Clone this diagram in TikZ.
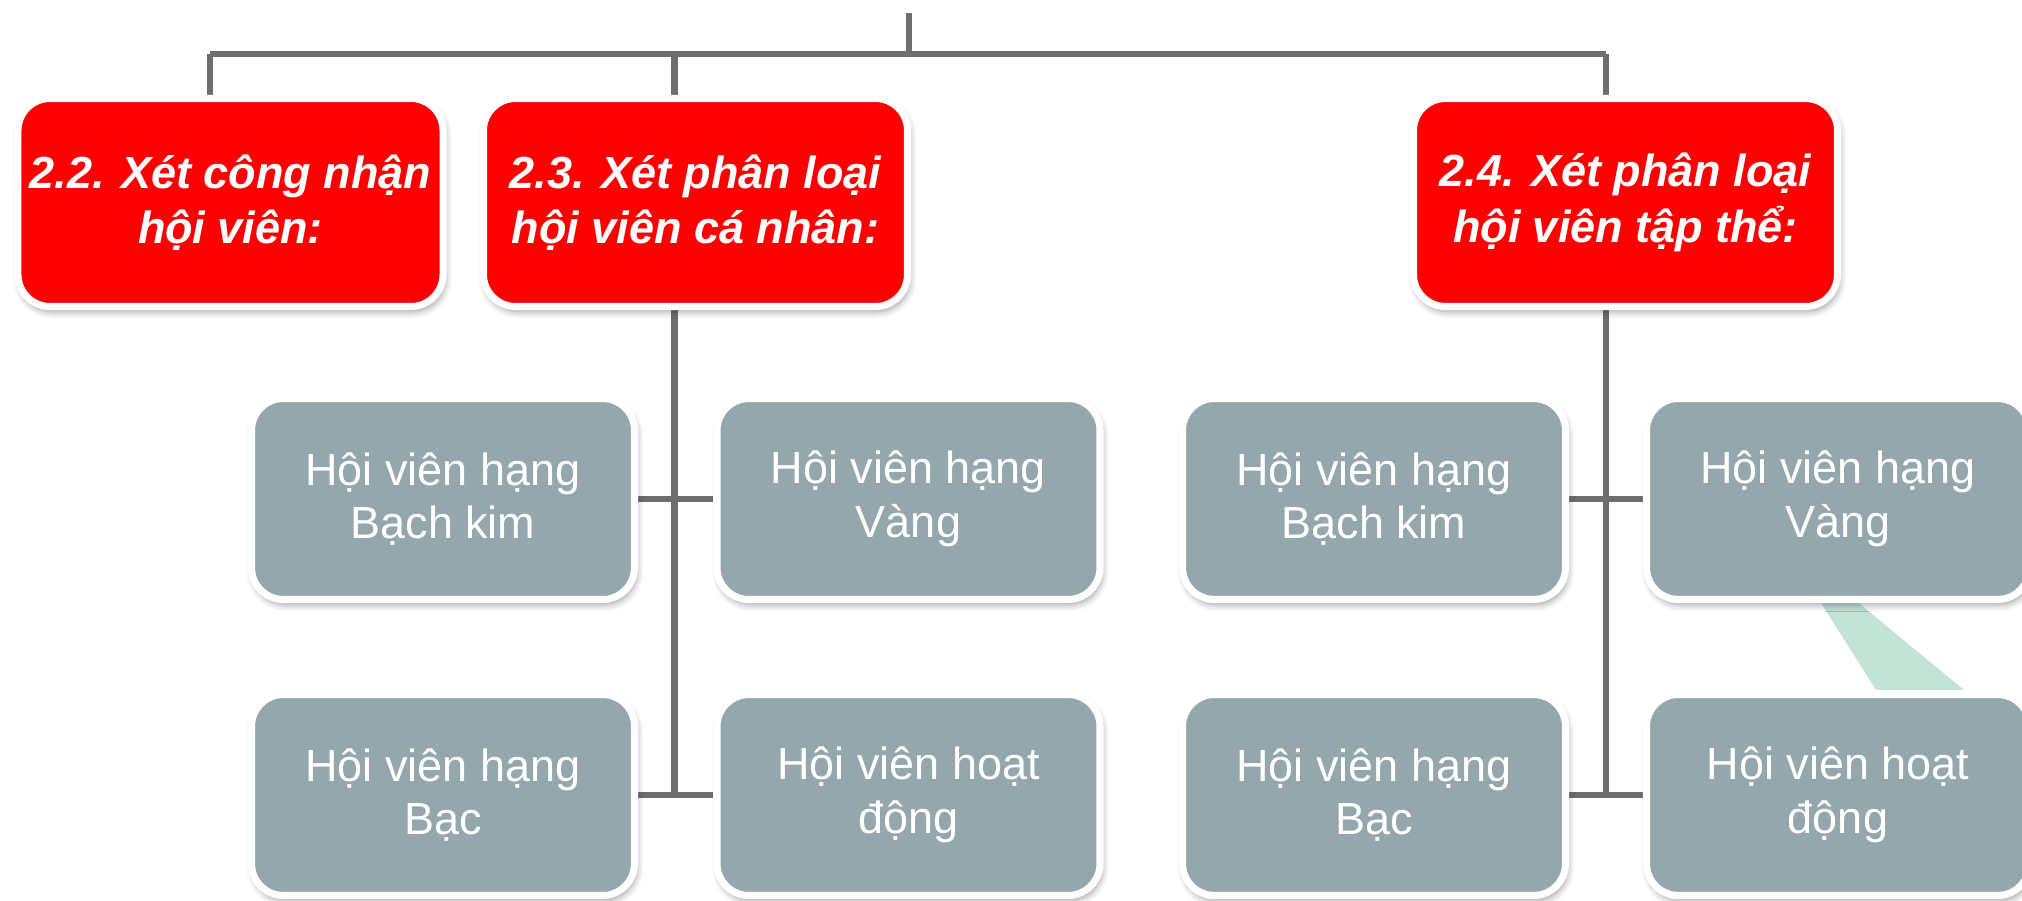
\documentclass[tikz,border=0pt]{standalone}
\usepackage{fontspec}
\setmainfont{Liberation Sans}
\usetikzlibrary{shadows.blur,backgrounds}
\definecolor{boxred}{RGB}{255,0,0}
\definecolor{boxgrey}{RGB}{148,167,172}
\definecolor{linegrey}{RGB}{109,110,112}
\definecolor{mint}{RGB}{194,227,214}
\tikzset{
  redbox/.style={draw=white,line width=2pt,fill=boxred,rounded corners=0.32cm,
    minimum width=4.24cm,minimum height=2.08cm,align=center,text=white,
    font=\fontsize{12.8}{15.8}\selectfont\bfseries\itshape,
    blur shadow={shadow xshift=0.02cm,shadow yshift=-0.05cm,
      shadow blur radius=0.07cm,shadow opacity=40}},
  greybox/.style={draw=white,line width=2pt,fill=boxgrey,rounded corners=0.32cm,
    minimum width=3.83cm,minimum height=2.01cm,align=center,text=white,
    font=\fontsize{12.8}{15.3}\selectfont,
    blur shadow={shadow xshift=0.02cm,shadow yshift=-0.05cm,
      shadow blur radius=0.07cm,shadow opacity=40}},
  conn/.style={draw=linegrey,line width=1.8pt}
}
\begin{document}
\begin{tikzpicture}
\useasboundingbox (0,0) rectangle (20.22,-9.01);
\clip (0,0) rectangle (20.22,-9.01);
% top level
\node[redbox] (r22) at (2.305,-2.025) {2.2. Xét công nhận\\hội viên:};
\node[redbox] (r23) at (6.955,-2.025) {2.3. Xét phân loại\\hội viên cá nhân:};
\node[redbox] (r24) at (16.255,-2.025) {2.4. Xét phân loại\\hội viên tập thể:};
% ca nhan
\node[greybox] (a1) at (4.43,-4.99) {Hội viên hạng\\Bạch kim};
\node[greybox] (b1) at (9.085,-4.99) {Hội viên hạng\\Vàng};
\node[greybox] (a2) at (4.43,-7.95) {Hội viên hạng\\Bạc};
\node[greybox] (b2) at (9.085,-7.95) {Hội viên hoạt\\động};
% tap the
\node[greybox] (c1) at (13.74,-4.99) {Hội viên hạng\\Bạch kim};
\node[greybox] (d1) at (18.38,-4.99) {Hội viên hạng\\Vàng};
\node[greybox] (c2) at (13.74,-7.95) {Hội viên hạng\\Bạc};
\node[greybox] (d2) at (18.38,-7.95) {Hội viên hoạt\\động};
\coordinate (top) at (9.09,-0.13);
\coordinate (bus) at (9.09,-0.54);
\coordinate (busl) at (2.10,-0.54);
\coordinate (busm) at (6.745,-0.54);
\coordinate (busr) at (16.06,-0.54);
\begin{scope}[on background layer]
\fill[mint] (18.19,-6.0)--(18.55,-6.0)--(19.64,-6.9)--(18.76,-6.9)--cycle;
\draw[conn] (top)--(bus);
\draw[conn] (busl)--(busr);
\draw[conn] (busl)--(busl |- r22.north);
\draw[conn] (busm)--(busm |- r23.north);
\draw[conn] (busr)--(busr |- r24.north);
\draw[conn] (busm |- r23.south)--(busm |- b2.west);
\draw[conn] (busr |- r24.south)--(busr |- d2.west);
\draw[conn] (a1.east)--(b1.west);
\draw[conn] (a2.east)--(b2.west);
\draw[conn] (c1.east)--(d1.west);
\draw[conn] (c2.east)--(d2.west);
\end{scope}
\end{tikzpicture}
\end{document}
